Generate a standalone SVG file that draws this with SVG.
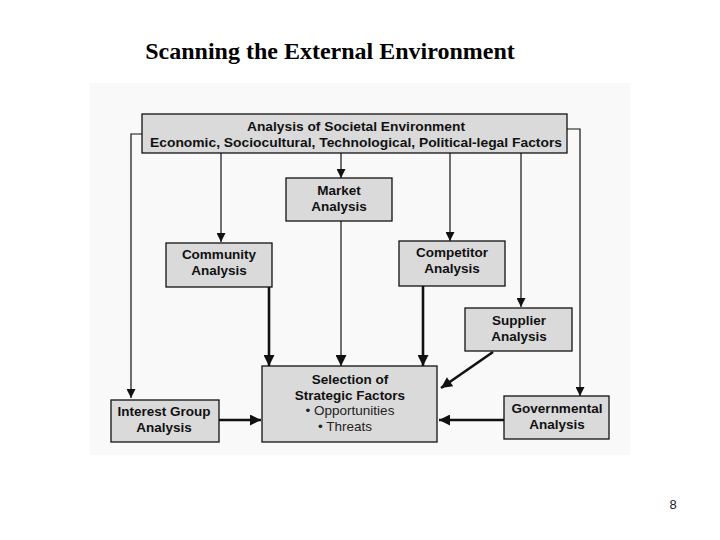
<svg xmlns="http://www.w3.org/2000/svg" width="720" height="540" viewBox="0 0 720 540">
<style>
.box{fill:#dadada;stroke:#111;stroke-width:1.3}
.t{font-family:"Liberation Sans",Arial,sans-serif;font-weight:bold;font-size:13.5px;fill:#111;text-anchor:middle}
.n{font-family:"Liberation Sans",Arial,sans-serif;font-size:13.5px;fill:#222;text-anchor:middle}
.c{fill:none;stroke:#111;stroke-width:1.2}
.thick{stroke-width:2.6}
</style>
<defs>
<marker id="ah" viewBox="0 0 10 10" refX="10" refY="5" markerWidth="12" markerHeight="9" markerUnits="userSpaceOnUse" orient="auto">
<path d="M0,0 L10,5 L0,10 z" fill="#111"/>
</marker>
<marker id="ahb" viewBox="0 0 10 10" refX="10" refY="5" markerWidth="14" markerHeight="11" markerUnits="userSpaceOnUse" orient="auto">
<path d="M0,0 L10,5 L0,10 z" fill="#111"/>
</marker>
</defs>
<rect x="0" y="0" width="720" height="540" fill="#fff"/>
<rect x="90" y="83" width="540" height="372" fill="#f9f9f9"/>
<text x="330" y="59" font-family="Liberation Serif,'Times New Roman',serif" font-weight="bold" font-size="24" text-anchor="middle" fill="#000">Scanning the External Environment</text>
<g id="connectors">
<path class="c" d="M142,134 H131 V398" marker-end="url(#ah)"/>
<path class="c" d="M567,129 H580 V396" marker-end="url(#ah)"/>
<path class="c" d="M221,153 V242" marker-end="url(#ah)"/>
<path class="c" d="M341,153 V178" marker-end="url(#ah)"/>
<path class="c" d="M450,153 V241" marker-end="url(#ah)"/>
<path class="c" d="M521,153 V307" marker-end="url(#ah)"/>
<path class="c thick" d="M269,287 V366" marker-end="url(#ahb)"/>
<path class="c" d="M341,221 V366" marker-end="url(#ahb)"/>
<path class="c thick" d="M423,286 V366" marker-end="url(#ahb)"/>
<path class="c thick" d="M493,352 L441,388" marker-end="url(#ahb)"/>
<path class="c thick" d="M504,420 L439,420" marker-end="url(#ahb)"/>
<path class="c thick" d="M219,420 L261,420" marker-end="url(#ahb)"/>
</g>
<g id="societal">
<rect class="box" x="142" y="114" width="425" height="39"/>
<text class="t" x="356" y="131" textLength="218" lengthAdjust="spacingAndGlyphs">Analysis of Societal Environment</text>
<text class="t" x="356" y="147" textLength="412" lengthAdjust="spacingAndGlyphs">Economic, Sociocultural, Technological, Political-legal Factors</text>
</g>
<g id="market">
<rect class="box" x="286" y="178" width="106" height="43"/>
<text class="t" x="339" y="195">Market</text>
<text class="t" x="339" y="211">Analysis</text>
</g>
<g id="community">
<rect class="box" x="166" y="243" width="106" height="44"/>
<text class="t" x="219" y="259">Community</text>
<text class="t" x="219" y="275">Analysis</text>
</g>
<g id="competitor">
<rect class="box" x="399" y="241" width="106" height="45"/>
<text class="t" x="452" y="257">Competitor</text>
<text class="t" x="452" y="273">Analysis</text>
</g>
<g id="supplier">
<rect class="box" x="465" y="308" width="107" height="43"/>
<text class="t" x="519" y="325">Supplier</text>
<text class="t" x="519" y="341">Analysis</text>
</g>
<g id="selection">
<rect class="box" x="262" y="366" width="175" height="76"/>
<text class="t" x="350" y="384">Selection of</text>
<text class="t" x="350" y="400">Strategic Factors</text>
<text class="n" x="350" y="415">• Opportunities</text>
<text class="n" x="345" y="431">• Threats</text>
</g>
<g id="interest">
<rect class="box" x="111" y="400" width="108" height="42"/>
<text class="t" x="164" y="416">Interest Group</text>
<text class="t" x="164" y="432">Analysis</text>
</g>
<g id="governmental">
<rect class="box" x="504" y="396" width="105" height="43"/>
<text class="t" x="557" y="413">Governmental</text>
<text class="t" x="557" y="429">Analysis</text>
</g>
<text x="673" y="509" font-family="Liberation Sans,Arial,sans-serif" font-size="13" text-anchor="middle" fill="#222">8</text>
</svg>
